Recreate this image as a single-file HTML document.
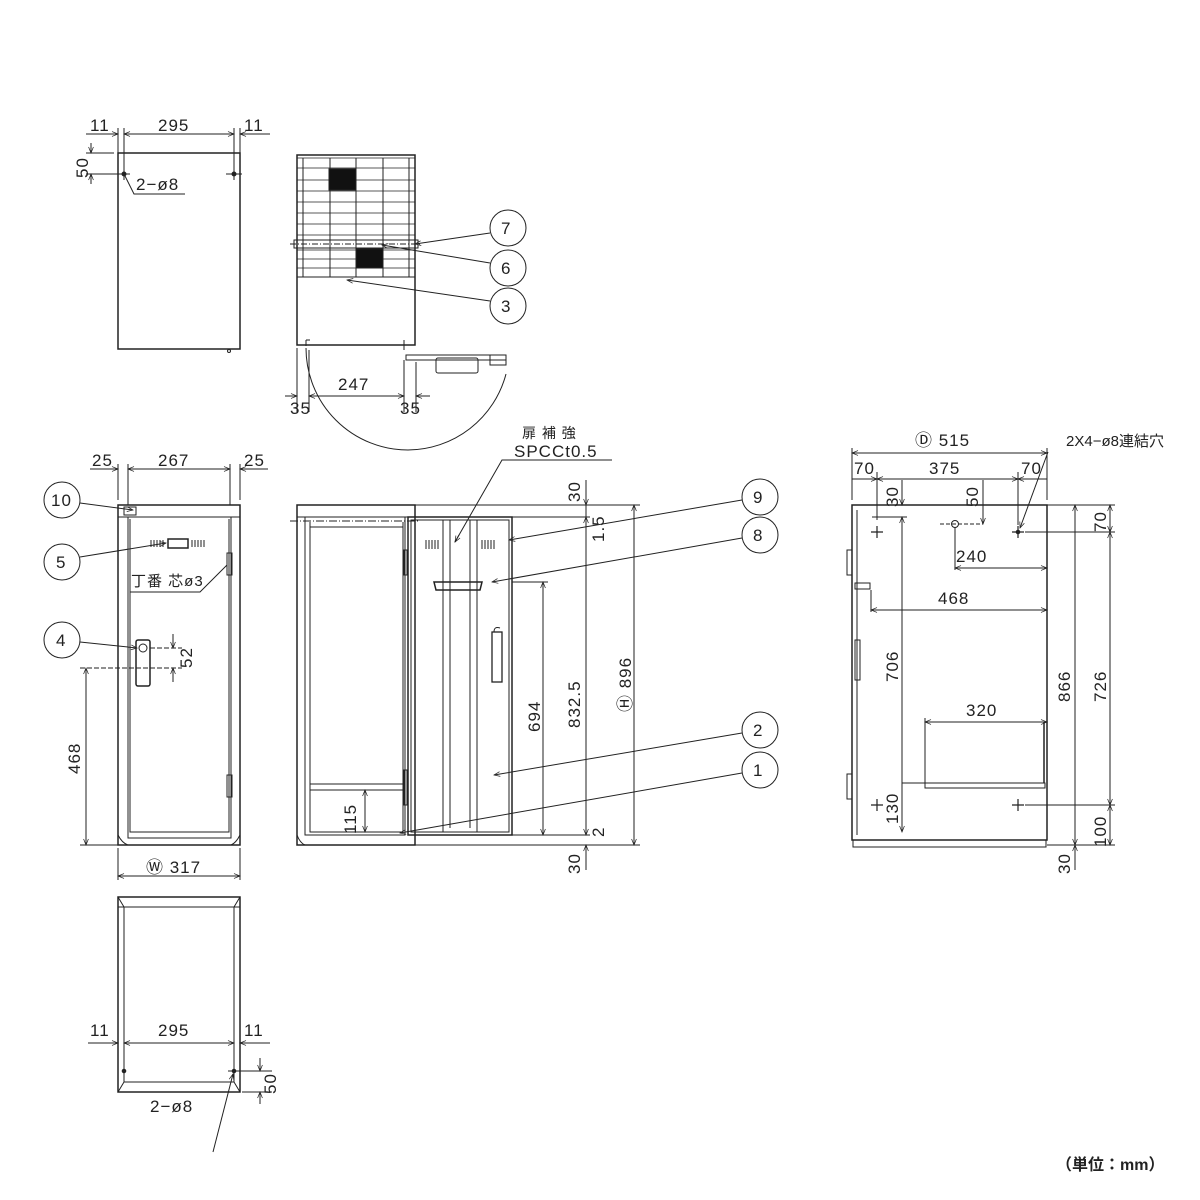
<!DOCTYPE html>
<html><head><meta charset="utf-8"><style>
html,body{margin:0;padding:0;background:#fff;}
svg{display:block;}
text{font-family:"Liberation Sans","Noto Sans CJK JP",sans-serif;font-size:17px;letter-spacing:1px;fill:#222;}
</style></head><body>
<svg width="1200" height="1200" viewBox="0 0 1200 1200" xmlns="http://www.w3.org/2000/svg">
<defs>
<marker id="a" viewBox="0 0 10 10" refX="10" refY="5" markerWidth="8" markerHeight="6" orient="auto-start-reverse"><path d="M0,1 L10,5 L0,9" fill="none" stroke="#222" stroke-width="1.2"/></marker>
</defs>
<g stroke="#222" stroke-width="1" fill="none">

<!-- ========== TOP-LEFT VIEW ========== -->
<rect x="118" y="153" width="122" height="196" stroke-width="1.5"/>
<circle cx="229" cy="351" r="1.5"/>
<line x1="118" y1="128" x2="118" y2="153"/><line x1="124" y1="128" x2="124" y2="180"/>
<line x1="234" y1="128" x2="234" y2="180"/><line x1="240" y1="128" x2="240" y2="153"/>
<line x1="86" y1="134" x2="118" y2="134" marker-end="url(#a)"/>
<line x1="124" y1="134" x2="234" y2="134" marker-start="url(#a)" marker-end="url(#a)"/>
<line x1="270" y1="134" x2="240" y2="134" marker-end="url(#a)"/>
<line x1="86" y1="153" x2="114" y2="153"/><line x1="86" y1="174" x2="130" y2="174"/>
<line x1="91" y1="143" x2="91" y2="153" marker-end="url(#a)"/>
<line x1="91" y1="184" x2="91" y2="174" marker-end="url(#a)"/>
<line x1="226" y1="174" x2="242" y2="174"/>
<circle cx="124" cy="174" r="2" fill="#222"/><circle cx="234" cy="174" r="2" fill="#222"/>
<polyline points="185,194 134,194 125,176"/>
</g>
<text x="90" y="131">11</text><text x="158" y="131">295</text><text x="244" y="131">11</text>
<text x="0" y="0" transform="translate(88,178) rotate(-90)">50</text>
<text x="136" y="190">2−ø8</text>

<!-- ========== TOP PLAN VIEW ========== -->
<g stroke="#222" stroke-width="1" fill="none">
<rect x="297" y="155" width="118" height="190" stroke-width="1.5"/>
<line x1="297" y1="277" x2="415" y2="277"/>
<line x1="303" y1="158" x2="303" y2="277"/><line x1="409" y1="158" x2="409" y2="277"/>
<line x1="330" y1="158" x2="330" y2="277"/><line x1="356" y1="158" x2="356" y2="277"/><line x1="383" y1="158" x2="383" y2="277"/>
<g stroke-width="0.8">
<line x1="297" y1="158" x2="415" y2="158"/><line x1="297" y1="168" x2="415" y2="168"/>
<line x1="297" y1="180" x2="415" y2="180"/><line x1="297" y1="191" x2="415" y2="191"/>
<line x1="297" y1="202" x2="415" y2="202"/><line x1="297" y1="213" x2="415" y2="213"/>
<line x1="297" y1="224" x2="415" y2="224"/><line x1="297" y1="235" x2="415" y2="235"/>
<line x1="297" y1="250" x2="415" y2="250"/><line x1="297" y1="259" x2="415" y2="259"/>
<line x1="297" y1="268" x2="415" y2="268"/>
</g>
<rect x="294" y="240" width="124" height="8"/>
<line x1="290" y1="244" x2="420" y2="244" stroke-dasharray="6,2,1,2"/>
<rect x="329" y="169" width="27" height="21" fill="#111"/>
<rect x="356" y="249" width="27" height="19" fill="#111"/>
<line x1="306" y1="346" x2="306" y2="340"/><line x1="306" y1="340" x2="310" y2="340"/>
<line x1="404" y1="340" x2="404" y2="350"/>
<rect x="406" y="355" width="100" height="5"/>
<rect x="436" y="358" width="42" height="15" rx="2"/>
<rect x="490" y="355" width="16" height="10"/>
<path d="M306,348 A102,102 0 0,0 408,450 A102,102 0 0,0 506,374"/>
<line x1="297" y1="348" x2="297" y2="412"/><line x1="309" y1="350" x2="309" y2="412"/>
<line x1="404" y1="360" x2="404" y2="412"/><line x1="416" y1="362" x2="416" y2="412"/>
<line x1="309" y1="396" x2="404" y2="396" marker-start="url(#a)" marker-end="url(#a)"/>
<line x1="285" y1="396" x2="297" y2="396" marker-end="url(#a)"/>
<line x1="430" y1="396" x2="416" y2="396" marker-end="url(#a)"/>
<circle cx="508" cy="228" r="18"/><circle cx="508" cy="268" r="18"/><circle cx="508" cy="306" r="18"/>
<line x1="490" y1="233" x2="415" y2="244" marker-end="url(#a)"/>
<line x1="490" y1="263" x2="382" y2="245" marker-end="url(#a)"/>
<line x1="490" y1="301" x2="347" y2="280" marker-end="url(#a)"/>
</g>
<text x="501" y="234">7</text><text x="501" y="274">6</text><text x="501" y="312">3</text>
<text x="338" y="390">247</text><text x="290" y="414">35</text><text x="400" y="414">35</text>

<!-- ========== FRONT VIEW ========== -->
<g stroke="#222" stroke-width="1" fill="none">
<rect x="118" y="505" width="122" height="340" stroke-width="1.5"/>
<line x1="118" y1="517" x2="240" y2="517"/>
<path d="M128,517 V838 H231 V517"/>
<path d="M130,519 V832 H229 V519"/>
<path d="M118,835 Q122,843 128,845 M240,835 Q236,843 231,845"/>
<rect x="124" y="507" width="12" height="8"/>
<rect x="168" y="539" width="20" height="9" stroke-width="1.5"/>
<path d="M151,540v7M154,540v7M157,540v7M160,540v7M163,540v7M192,540v7M195,540v7M198,540v7M201,540v7M204,540v7" />
<rect x="227" y="553" width="5" height="22"/>
<rect x="227" y="775" width="5" height="22"/>
<rect x="136" y="640" width="14" height="46" rx="2" stroke-width="1.5"/>
<circle cx="143" cy="648" r="4"/>
<line x1="118" y1="464" x2="118" y2="500"/><line x1="128" y1="464" x2="128" y2="505"/>
<line x1="230" y1="464" x2="230" y2="505"/><line x1="240" y1="464" x2="240" y2="500"/>
<line x1="90" y1="469" x2="118" y2="469" marker-end="url(#a)"/>
<line x1="128" y1="469" x2="230" y2="469" marker-start="url(#a)" marker-end="url(#a)"/>
<line x1="268" y1="469" x2="240" y2="469" marker-end="url(#a)"/>
<circle cx="62" cy="500" r="18"/><circle cx="62" cy="562" r="18"/><circle cx="62" cy="640" r="18"/>
<line x1="80" y1="503" x2="133" y2="510" marker-end="url(#a)"/>
<line x1="80" y1="557" x2="166" y2="543" marker-end="url(#a)"/>
<line x1="80" y1="642" x2="137" y2="648" marker-end="url(#a)"/>
<polyline points="130,592 200,592 227,565" />
<line x1="150" y1="648" x2="182" y2="648" stroke-dasharray="5,2"/>
<line x1="80" y1="668" x2="182" y2="668" stroke-dasharray="5,2"/>
<line x1="173" y1="634" x2="173" y2="648" marker-end="url(#a)"/>
<line x1="173" y1="682" x2="173" y2="668" marker-end="url(#a)"/>
<line x1="80" y1="845" x2="118" y2="845"/>
<line x1="86" y1="668" x2="86" y2="845" marker-start="url(#a)" marker-end="url(#a)"/>
<line x1="118" y1="848" x2="118" y2="880"/><line x1="240" y1="848" x2="240" y2="880"/>
<line x1="118" y1="876" x2="240" y2="876" marker-start="url(#a)" marker-end="url(#a)"/>
</g>
<text x="92" y="466">25</text><text x="158" y="466">267</text><text x="244" y="466">25</text>
<text x="51" y="506">10</text><text x="56" y="568">5</text><text x="56" y="646">4</text>
<text x="131" y="586" style="font-size:15px">丁番 芯ø3</text>
<text transform="translate(192,668) rotate(-90)">52</text>
<text transform="translate(80,774) rotate(-90)">468</text>
<text x="146" y="873">Ⓦ 317</text>

<!-- ========== BOTTOM VIEW ========== -->
<g stroke="#222" stroke-width="1" fill="none">
<rect x="118" y="897" width="122" height="195" stroke-width="1.5"/>
<line x1="118" y1="907" x2="240" y2="907"/>
<line x1="124" y1="907" x2="124" y2="1082"/><line x1="234" y1="907" x2="234" y2="1082"/>
<line x1="124" y1="1082" x2="234" y2="1082"/>
<path d="M118,897 L124,907 M240,897 L234,907 M118,1092 L124,1082 M240,1092 L234,1082"/>
<line x1="118" y1="1036" x2="118" y2="1060"/><line x1="124" y1="1036" x2="124" y2="1075"/>
<line x1="234" y1="1036" x2="234" y2="1075"/><line x1="240" y1="1036" x2="240" y2="1060"/>
<line x1="88" y1="1043" x2="118" y2="1043" marker-end="url(#a)"/>
<line x1="124" y1="1043" x2="234" y2="1043" marker-start="url(#a)" marker-end="url(#a)"/>
<line x1="270" y1="1043" x2="240" y2="1043" marker-end="url(#a)"/>
<circle cx="124" cy="1071" r="1.8" fill="#222"/><circle cx="234" cy="1071" r="1.8" fill="#222"/>
<line x1="228" y1="1071" x2="272" y2="1071"/><line x1="242" y1="1092" x2="272" y2="1092"/>
<line x1="260" y1="1058" x2="260" y2="1071" marker-end="url(#a)"/>
<line x1="260" y1="1104" x2="260" y2="1092" marker-end="url(#a)"/>
<line x1="213" y1="1152" x2="233" y2="1074" marker-end="url(#a)"/>
</g>
<text x="90" y="1036">11</text><text x="158" y="1036">295</text><text x="244" y="1036">11</text>
<text transform="translate(276,1094) rotate(-90)">50</text>
<text x="150" y="1112">2−ø8</text>

<!-- ========== SIDE (OPEN) VIEW ========== -->
<g stroke="#222" stroke-width="1" fill="none">
<rect x="297" y="505" width="118" height="340" stroke-width="1.5"/>
<line x1="297" y1="517" x2="415" y2="517"/>
<path d="M305,517 V835 H405 V517"/>
<path d="M310,522 V832 H403 V522"/>
<line x1="310" y1="527" x2="403" y2="527"/>
<line x1="310" y1="784" x2="403" y2="784"/><line x1="310" y1="790" x2="403" y2="790"/>
<line x1="290" y1="521" x2="420" y2="521" stroke-dasharray="8,2,1,2"/>
<rect x="404" y="550" width="3" height="25"/><rect x="404" y="770" width="3" height="35"/>
<path d="M297,835 Q300,843 305,845"/>
<rect x="408" y="517" width="104" height="318" stroke-width="1.5"/>
<rect x="411" y="520" width="98" height="312"/>
<line x1="443" y1="520" x2="443" y2="832"/><line x1="450" y1="520" x2="450" y2="828"/>
<line x1="470" y1="520" x2="470" y2="828"/><line x1="477" y1="520" x2="477" y2="832"/>
<path d="M426,540v9M429,540v9M432,540v9M435,540v9M438,540v9M482,540v9M485,540v9M488,540v9M491,540v9M494,540v9"/>
<path d="M434,582 H482 L480,590 H436 Z" stroke-width="1.5"/>
<rect x="492" y="632" width="10" height="50" stroke-width="1.3"/>
<path d="M494,632 q0,-6 6,-4"/>
<line x1="415" y1="505" x2="640" y2="505"/>
<line x1="512" y1="517" x2="590" y2="517"/>
<line x1="512" y1="582" x2="548" y2="582"/>
<line x1="415" y1="835" x2="590" y2="835"/>
<line x1="415" y1="845" x2="640" y2="845"/>
<line x1="586" y1="480" x2="586" y2="505" marker-end="url(#a)"/>
<line x1="586" y1="505" x2="586" y2="517"/>
<line x1="586" y1="517" x2="586" y2="835" marker-start="url(#a)" marker-end="url(#a)"/>
<line x1="586" y1="870" x2="586" y2="845" marker-end="url(#a)"/>
<line x1="543" y1="582" x2="543" y2="835" marker-start="url(#a)" marker-end="url(#a)"/>
<line x1="634" y1="505" x2="634" y2="845" marker-start="url(#a)" marker-end="url(#a)"/>
<line x1="365" y1="790" x2="365" y2="832" marker-start="url(#a)" marker-end="url(#a)"/>
<circle cx="760" cy="497" r="18"/><circle cx="760" cy="535" r="18"/>
<circle cx="760" cy="730" r="18"/><circle cx="760" cy="770" r="18"/>
<line x1="742" y1="500" x2="509" y2="540" marker-end="url(#a)"/>
<line x1="742" y1="538" x2="492" y2="582" marker-end="url(#a)"/>
<line x1="742" y1="733" x2="494" y2="775" marker-end="url(#a)"/>
<line x1="742" y1="773" x2="400" y2="833" marker-end="url(#a)"/>
<polyline points="612,460 502,460 455,542" />
<line x1="459" y1="535" x2="455" y2="542" marker-end="url(#a)"/>
</g>
<text x="522" y="438" style="font-size:14px">扉 補 強</text>
<text x="514" y="457">SPCCt0.5</text>
<text x="753" y="503">9</text><text x="753" y="541">8</text><text x="753" y="736">2</text><text x="753" y="776">1</text>
<text transform="translate(580,502) rotate(-90)">30</text>
<text transform="translate(604,542) rotate(-90)">1.5</text>
<text transform="translate(580,728) rotate(-90)">832.5</text>
<text transform="translate(604,837) rotate(-90)">2</text>
<text transform="translate(580,874) rotate(-90)">30</text>
<text transform="translate(540,732) rotate(-90)">694</text>
<text transform="translate(631,712) rotate(-90)">Ⓗ 896</text>
<text transform="translate(356,834) rotate(-90)">115</text>

<!-- ========== RIGHT SIDE VIEW ========== -->
<g stroke="#222" stroke-width="1" fill="none">
<rect x="852" y="505" width="195" height="335" stroke-width="1.5"/>
<rect x="853" y="840" width="193" height="7"/>
<line x1="857" y1="510" x2="857" y2="835"/>
<rect x="847" y="550" width="5" height="25"/><rect x="847" y="774" width="5" height="25"/>
<path d="M855,583 h15 v6 h-15 z"/>
<rect x="855" y="640" width="5" height="40"/>
<circle cx="955" cy="524" r="3.5"/>
<line x1="940" y1="524" x2="983" y2="524" stroke-dasharray="4,2"/>
<line x1="955" y1="527" x2="955" y2="570" />
<g stroke-width="1.2">
<path d="M871,532h12M877,526v12M1012,532h12M1018,526v12M871,805h12M877,799v12M1012,805h12M1018,799v12"/>
</g>
<circle cx="1018" cy="532" r="1.8" fill="#222"/>
<line x1="1025" y1="532" x2="1115" y2="532"/>
<line x1="1025" y1="805" x2="1115" y2="805"/>
<line x1="1047" y1="505" x2="1115" y2="505"/>
<line x1="1047" y1="845" x2="1115" y2="845"/>
<line x1="852" y1="448" x2="852" y2="500"/><line x1="1047" y1="448" x2="1047" y2="500"/>
<line x1="852" y1="453" x2="1047" y2="453" marker-start="url(#a)" marker-end="url(#a)"/>
<line x1="877" y1="472" x2="877" y2="520"/>
<line x1="1018" y1="472" x2="1018" y2="525"/>
<line x1="852" y1="479" x2="877" y2="479" marker-end="url(#a)"/>
<line x1="877" y1="479" x2="1018" y2="479" marker-start="url(#a)" marker-end="url(#a)"/>
<line x1="1047" y1="479" x2="1018" y2="479" marker-end="url(#a)"/>
<line x1="902" y1="480" x2="902" y2="505" marker-end="url(#a)"/>
<line x1="983" y1="480" x2="983" y2="524" marker-end="url(#a)"/>
<line x1="902" y1="517" x2="902" y2="832" marker-start="url(#a)" marker-end="url(#a)"/>
<line x1="872" y1="517" x2="907" y2="517"/>
<line x1="902" y1="783" x2="925" y2="783"/>
<line x1="955" y1="568" x2="1047" y2="568" marker-start="url(#a)" marker-end="url(#a)"/>
<line x1="871" y1="590" x2="871" y2="612"/>
<line x1="871" y1="610" x2="1047" y2="610" marker-start="url(#a)" marker-end="url(#a)"/>
<line x1="925" y1="718" x2="925" y2="783"/>
<line x1="925" y1="722" x2="1047" y2="722" marker-start="url(#a)" marker-end="url(#a)"/>
<line x1="1044" y1="722" x2="1044" y2="783" stroke-width="1.5"/>
<rect x="925" y="783" width="120" height="5"/>
<line x1="1075" y1="505" x2="1075" y2="845" marker-start="url(#a)" marker-end="url(#a)"/>
<line x1="1075" y1="870" x2="1075" y2="845" marker-end="url(#a)"/>
<line x1="1110" y1="505" x2="1110" y2="532" marker-start="url(#a)" marker-end="url(#a)"/>
<line x1="1110" y1="532" x2="1110" y2="805" marker-start="url(#a)" marker-end="url(#a)"/>
<line x1="1110" y1="805" x2="1110" y2="845" marker-start="url(#a)" marker-end="url(#a)"/>
<line x1="1048" y1="452" x2="1020" y2="528" marker-end="url(#a)"/>
</g>
<text x="915" y="446">Ⓓ 515</text>
<text x="1066" y="446" style="font-size:15px;letter-spacing:0">2X4−ø8連結穴</text>
<text x="854" y="474">70</text><text x="929" y="474">375</text><text x="1021" y="474">70</text>
<text transform="translate(898,507) rotate(-90)">30</text>
<text transform="translate(978,507) rotate(-90)">50</text>
<text x="956" y="562">240</text><text x="938" y="604">468</text><text x="966" y="716">320</text>
<text transform="translate(898,682) rotate(-90)">706</text>
<text transform="translate(898,824) rotate(-90)">130</text>
<text transform="translate(1070,702) rotate(-90)">866</text>
<text transform="translate(1106,702) rotate(-90)">726</text>
<text transform="translate(1106,532) rotate(-90)">70</text>
<text transform="translate(1106,847) rotate(-90)">100</text>
<text transform="translate(1070,874) rotate(-90)">30</text>
<text x="1056" y="1170" style="font-size:16px;font-weight:bold;letter-spacing:0">（単位：mm）</text>
</svg>
</body></html>
